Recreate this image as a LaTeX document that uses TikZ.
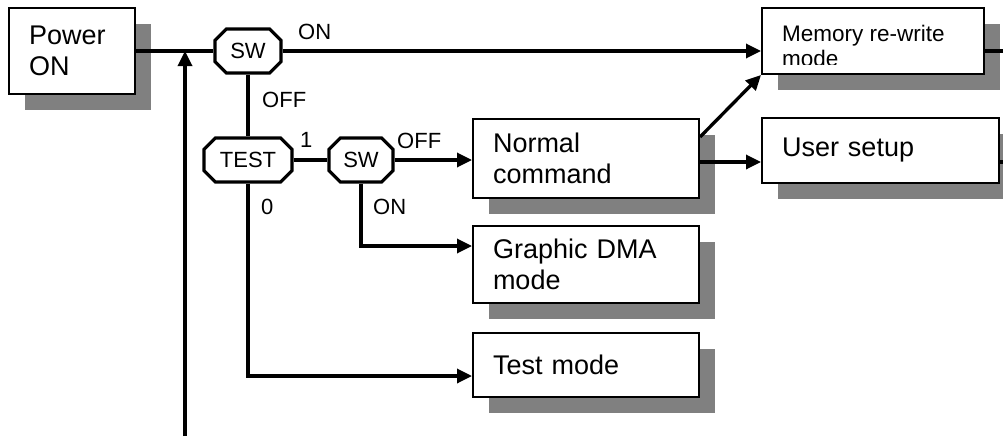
\documentclass[tikz,border=0pt]{standalone}
\usepackage{fontspec}
\setmainfont{Liberation Sans}
\usetikzlibrary{shapes.misc,shadows,arrows.meta}
\tikzset{
    modebox/.style={
        draw, line width=2pt, fill=white,
        drop shadow={shadow xshift=16pt, shadow yshift=-16pt, fill=black!50, opacity=1},
        inner xsep=20pt, inner ysep=0pt, align=left,
        font=\fontsize{27}{31}\selectfont
    },
    swshape/.style={
        draw, line width=3.2pt, fill=white, chamfered rectangle,
        chamfered rectangle xsep=9pt, inner sep=0pt,
        minimum height=44pt, font=\fontsize{22}{26}\selectfont
    },
    tag/.style={inner sep=0pt, anchor=base west, font=\fontsize{22}{26}\selectfont},
    wire/.style={line width=3.3pt},
    arr/.style={wire, -{Triangle[length=15pt,width=14pt]}}
}
\begin{document}
\begin{tikzpicture}[x=1pt,y=-1pt]
		\useasboundingbox (0,0) rectangle (1003,436);
		
		% Boxes
		\node [modebox, text width=86pt, minimum height=86pt] (power) at (72,51) {Power\\ON};
		\node [modebox, minimum width=222pt, minimum height=66pt] (memory) at (873,41) {};
		\node [modebox, text width=186pt, minimum height=79pt] (normal) at (586,158.5) {Normal\\command};
		\node [modebox, text width=197pt, minimum height=65pt] (user) at (880.5,150.5) {User setup};
		\node [modebox, text width=186pt, minimum height=77pt] (graphic) at (586,264.5) {Graphic DMA\\mode};
		\node [modebox, text width=186pt, minimum height=64pt] (testmode) at (586,365) {Test mode};
		
		% Text of the memory box, cut off at the bottom
		\begin{scope}
			\clip (memory.north west) rectangle ([yshift=11pt]memory.south east);
			\node [anchor=north west, inner sep=0pt, align=left, font=\fontsize{22.5}{25}\selectfont] (memtext) at (782,25) {Memory re-write\\mode};
		\end{scope}
		
		% Switches
		\node [swshape, minimum width=66pt] (swa) at (248,51) {SW};
		\node [swshape, minimum width=88pt] (tst) at (248,160) {TEST};
		\node [swshape, minimum width=64pt] (swb) at (361,160) {SW};
		
		% Main line
		\draw [wire] (power.east) -- (swa.west);
		\draw [arr] (swa.east) -- (memory.west |- swa.east);
		\draw [wire] (memory.east |- swa.east) -- ++(20,0);
		\coordinate (feed) at (185,436);
		\draw [arr] (feed) -- (feed |- power.east);
		
		% Test branch
		\draw [wire] (swa.south) -- (tst.north);
		\draw [wire] (tst.east) -- (swb.west);
		\draw [arr] (swb.east) -- (swb.east -| normal.west);
		\draw [arr] (swb.south) |- ([yshift=18.5pt]graphic.west);
		\draw [arr] (tst.south) |- ([yshift=-11pt]testmode.west);
		
		% Normal command outputs
		\draw [arr] ([yshift=-3.5pt]normal.east) -- ([yshift=-3.5pt]normal.east -| user.west);
		\draw [arr] ([yshift=-19pt]normal.north east) -- (memory.south west);
		\draw [wire] ([yshift=-11.5pt]user.east) -- ++(10,0);
		
		% Labels
		\node [tag] (lon) at (298,40) {ON};
		\node [tag] (loff) at (262,107) {OFF};
		\node [tag] (lone) at (300,147) {1};
		\node [tag] (loffb) at (397,148) {OFF};
		\node [tag] (lzero) at (261,214) {0};
		\node [tag] (lonb) at (373,214) {ON};
		
	\end{tikzpicture}
\end{document}
